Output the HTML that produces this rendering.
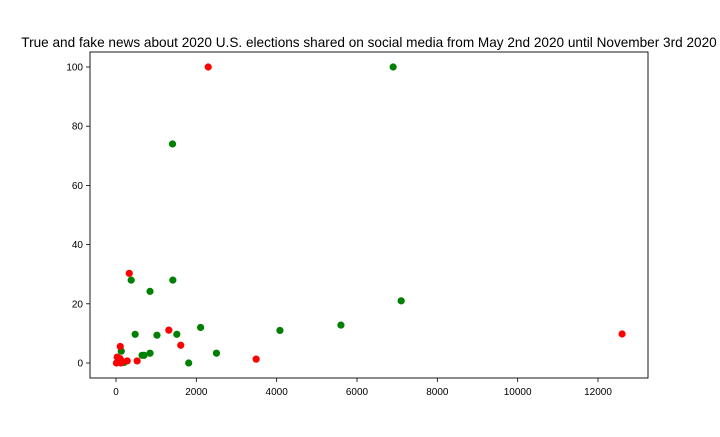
<!DOCTYPE html>
<html><head><meta charset="utf-8"><style>
body{margin:0;background:#fff;font-family:"Liberation Sans","DejaVu Sans",sans-serif}
</style></head><body>
<svg id="chart" width="720" height="432" xmlns="http://www.w3.org/2000/svg">
<text x="369" y="47" font-size="13.6" text-anchor="middle">True and fake news about 2020 U.S. elections shared on social media from May 2nd 2020 until November 3rd 2020</text>
<rect x="90" y="52" width="558" height="326" fill="none" stroke="#000" stroke-width="0.9"/>
<g id="ticks"></g><g id="pts"></g>
</svg>
<script>
const greenX=[378,1415,847,477,1020,1514,2106,4081,131,650,700,847,2501,1810,6900,1407,7100,5600,60,200];
const greenY=[28,28,24.2,9.7,9.4,9.7,12,11,4,2.6,2.6,3.3,3.3,0,100,74,21,12.8,1.5,0.2];
const redX=[330,1316,1612,106,3489,526,279,2296,12600,10,50,100,150,30,120];
const redY=[30.3,11.1,6,5.6,1.3,0.7,0.7,100,9.8,0,0.3,1.5,0.5,2,0];
const xTicks=[0,2000,4000,6000,8000,10000,12000];
const yTicks=[0,20,40,60,80,100];
const NS="http://www.w3.org/2000/svg";
const sx=v=>116+v*(598-116)/12000;
const sy=v=>363-v*(363-67)/100;
const tg=document.getElementById('ticks'),pg=document.getElementById('pts');
function mk(tag,a,p){const e=document.createElementNS(NS,tag);for(const k in a)e.setAttribute(k,a[k]);p.appendChild(e);return e;}
xTicks.forEach(t=>{
 const l=mk('line',{x1:sx(t),x2:sx(t),y1:378,y2:382,stroke:'#000','stroke-width':0.8},tg);
 
 
 const tx=mk('text',{x:sx(t),y:395,'font-size':10,'text-anchor':'middle'},tg);tx.textContent=t;
 
 
});
yTicks.forEach(t=>{
 const l=mk('line',{x1:86,x2:90,y1:sy(t),y2:sy(t),stroke:'#000','stroke-width':0.8},tg);
 
 
 const tx=mk('text',{x:83,y:sy(t)+3.5,'font-size':10,'text-anchor':'end'},tg);tx.textContent=t;
 
 
});
greenX.forEach((v,i)=>{
 const c=mk('circle',{cx:sx(v),cy:sy(greenY[i]),r:3.6,fill:'#008000'},pg);
 
 
});
redX.forEach((v,i)=>{
 const c=mk('circle',{cx:sx(v),cy:sy(redY[i]),r:3.6,fill:'#ff0000'},pg);
 
 
});
</script>
</body></html>
